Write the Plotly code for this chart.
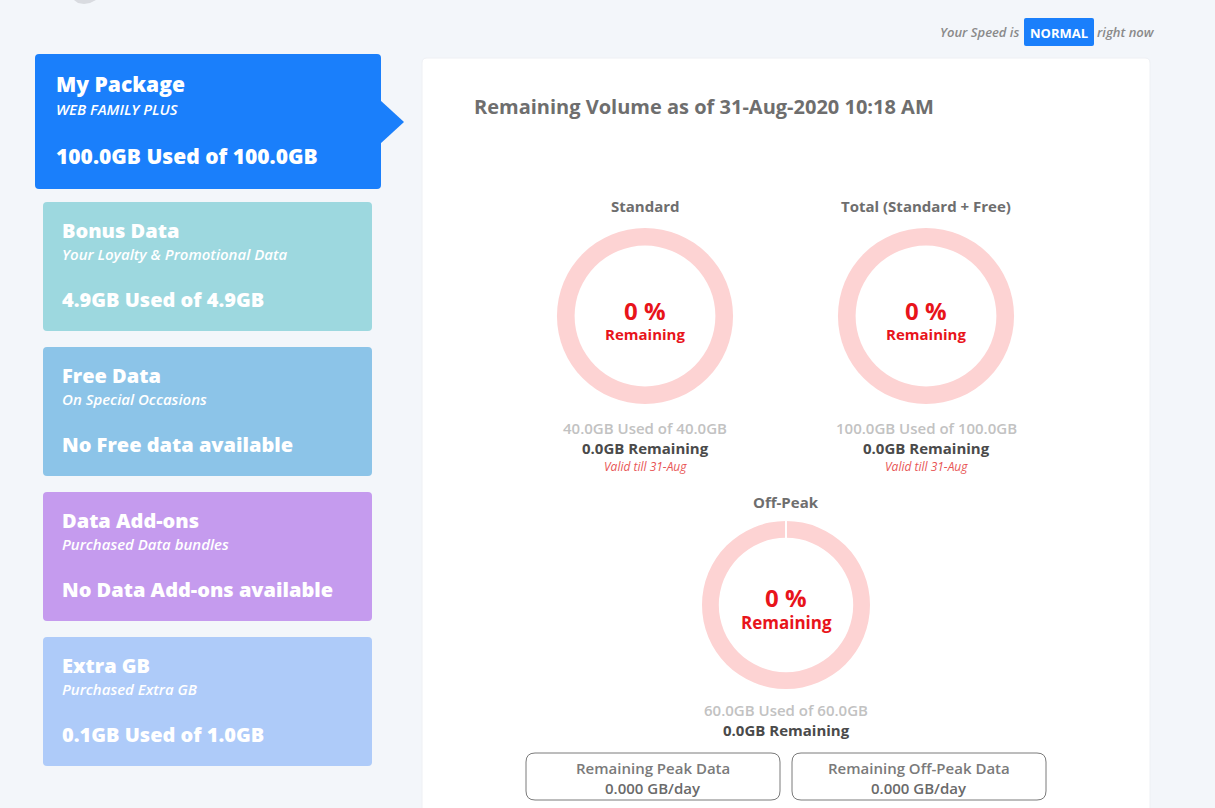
import plotly.graph_objects as go

# page size in px
W, H = 1215, 808

# donut data
donut_titles = ["Standard", "Total (Standard + Free)", "Off-Peak"]
used_gb = [40.0, 100.0, 60.0]
total_gb = [40.0, 100.0, 60.0]
valid_till = ["31-Aug", "31-Aug", None]

# left side cards
card_titles = ["My Package", "Bonus Data", "Free Data", "Data Add-ons", "Extra GB"]
card_subtitles = ["WEB FAMILY PLUS", "Your Loyalty & Promotional Data", "On Special Occasions",
                  "Purchased Data bundles", "Purchased Extra GB"]
card_values = ["100.0GB Used of 100.0GB", "4.9GB Used of 4.9GB", "No Free data available",
               "No Data Add-ons available", "0.1GB Used of 1.0GB"]
card_colors = ["#1a7ffb", "#9dd8df", "#8cc4e8", "#c59bee", "#aecbf9"]

# daily data boxes
daily_labels = ["Remaining Peak Data", "Remaining Off-Peak Data"]
daily_values = [0.000, 0.000]

speed_status = "NORMAL"
as_of = "31-Aug-2020 10:18 AM"

FONT = "Open Sans"


def rrect(x0, y0, x1, y1, r=4):
    return (f"M{x0+r},{y0} L{x1-r},{y0} Q{x1},{y0} {x1},{y0+r} L{x1},{y1-r} "
            f"Q{x1},{y1} {x1-r},{y1} L{x0+r},{y1} Q{x0},{y1} {x0},{y1-r} "
            f"L{x0},{y0+r} Q{x0},{y0} {x0+r},{y0} Z")


shapes = []
ann = []


def text(x, y, s, size, color, weight="normal", style="normal", xanchor="left"):
    ann.append(dict(x=x, y=y, xref="x", yref="y", text=s, showarrow=False,
                    xanchor=xanchor, yanchor="middle",
                    font=dict(family=FONT, size=size, color=color, weight=weight, style=style)))


# logo fragment at top left
shapes.append(dict(type="path", path="M74,0 L96,0 L90,3 L84,4 L78,3 Z",
                   fillcolor="#d9dbe0", line=dict(width=0), layer="below"))

# main white panel
shapes.append(dict(type="path", path=rrect(422, 58, 1150, 830, 5), fillcolor="white",
                   line=dict(color="#eef0f4", width=1), layer="below"))

# cards
for i, (t, st, v, c) in enumerate(zip(card_titles, card_subtitles, card_values, card_colors)):
    if i == 0:
        x0, y0, x1, y1 = 35, 54, 381, 189
        shapes.append(dict(type="path", path=rrect(x0, y0, x1, y1, 4), fillcolor=c,
                           line=dict(width=0), layer="below"))
        shapes.append(dict(type="path", path="M380,100 L404,122 L380,144 Z", fillcolor=c,
                           line=dict(width=0), layer="below"))
        text(54, 84, t, 21, "white", weight=800)
        text(54, 109, st, 15, "white", weight=600, style="italic")
        text(54, 156, v, 21, "white", weight=800)
    else:
        y0 = 202 + (i - 1) * 145
        shapes.append(dict(type="path", path=rrect(43, y0, 372, y0 + 129, 4), fillcolor=c,
                           line=dict(width=0), layer="below"))
        text(60, y0 + 28, t, 20, "white", weight=800)
        text(60, y0 + 52, st, 15, "white", weight=600, style="italic")
        text(60, y0 + 97, v, 20, "white", weight=800)

# speed badge
text(1021, 32, "Your Speed is", 13, "#8a8a8a", weight=600, style="italic", xanchor="right")
shapes.append(dict(type="path", path=rrect(1024, 18, 1094, 46, 2), fillcolor="#1a7ffb",
                   line=dict(width=0), layer="below"))
text(1059, 33, speed_status, 13, "white", weight="bold", xanchor="center")
text(1095, 32, "right now", 13, "#8a8a8a", weight=600, style="italic")

text(472, 106, "Remaining Volume as of " + as_of, 20, "#6e6e6e", weight="bold")

# donuts: centre x, centre y, radius and text offsets (title, used line)
centers = [(645, 316, 88), (926, 316, 88), (786, 605, 84)]
traces = []
for k, (title, used, tot, cen) in enumerate(zip(donut_titles, used_gb, total_gb, centers)):
    cx, cy, r = cen
    remaining = tot - used
    pct = round(100 * remaining / tot)
    traces.append(go.Pie(
        values=[remaining, used], labels=["Remaining", "Used"], sort=False,
        direction="clockwise", rotation=0, hole=0.8, textinfo="none",
        hoverinfo="label+value", showlegend=False,
        marker=dict(colors=["#e8141b", "#fdd3d3"], line=dict(color="white", width=0)),
        domain=dict(x=[(cx - r) / W, (cx + r) / W], y=[(H - cy - r) / H, (H - cy + r) / H]),
    ))
    big = k == 2
    if big:
        text(cx, cy - 103, title, 15, "#6e6e6e", weight="bold", xanchor="center")
        text(cx, cy - 8, f"{pct} %", 24, "#e8141b", weight="bold", xanchor="center")
        text(cx, cy + 17, "Remaining", 17, "#e8141b", weight="bold", xanchor="center")
        text(cx, cy + 105, f"{used:.1f}GB Used of {tot:.1f}GB", 15, "#c2c2c2",
             weight=600, xanchor="center")
        text(cx, cy + 125, f"{remaining:.1f}GB Remaining", 15, "#4a4a4a",
             weight="bold", xanchor="center")
    else:
        text(cx, cy - 110, title, 15, "#6e6e6e", weight="bold", xanchor="center")
        text(cx, cy - 6, f"{pct} %", 24, "#e8141b", weight="bold", xanchor="center")
        text(cx, cy + 18, "Remaining", 15, "#e8141b", weight="bold", xanchor="center")
        text(cx, cy + 112, f"{used:.1f}GB Used of {tot:.1f}GB", 15, "#c2c2c2",
             weight=600, xanchor="center")
        text(cx, cy + 132, f"{remaining:.1f}GB Remaining", 15, "#4a4a4a",
             weight="bold", xanchor="center")
    if valid_till[k]:
        text(cx, cy + 150, "Valid till " + valid_till[k], 12, "#e85555",
             style="italic", xanchor="center")

# off-peak ring has a thin break at 12 o'clock
shapes.append(dict(type="line", x0=786, x1=786, y0=519, y1=540,
                   line=dict(color="white", width=2)))

# bottom boxes
for j, (lab, val) in enumerate(zip(daily_labels, daily_values)):
    x0 = 526 + j * 266
    shapes.append(dict(type="path", path=rrect(x0, 753, x0 + 254, 800, 9), fillcolor="white",
                       line=dict(color="#7a7a7a", width=1), layer="below"))
    text(x0 + 127, 768, lab, 15, "#7a7a7a", weight=600, xanchor="center")
    text(x0 + 127, 788, f"{val:.3f} GB/day", 15, "#6a6a6a", weight=600, xanchor="center")

fig = go.Figure(data=traces)
fig.update_layout(
    width=W, height=H, margin=dict(l=0, r=0, t=0, b=0),
    paper_bgcolor="#f3f6fa", plot_bgcolor="rgba(0,0,0,0)",
    xaxis=dict(range=[0, W], visible=False, fixedrange=True),
    yaxis=dict(range=[H, 0], visible=False, fixedrange=True),
    shapes=shapes, annotations=ann,
)
fig.write_html("out.html", config={"displayModeBar": False},
               post_script="document.body.style.margin='0';")
